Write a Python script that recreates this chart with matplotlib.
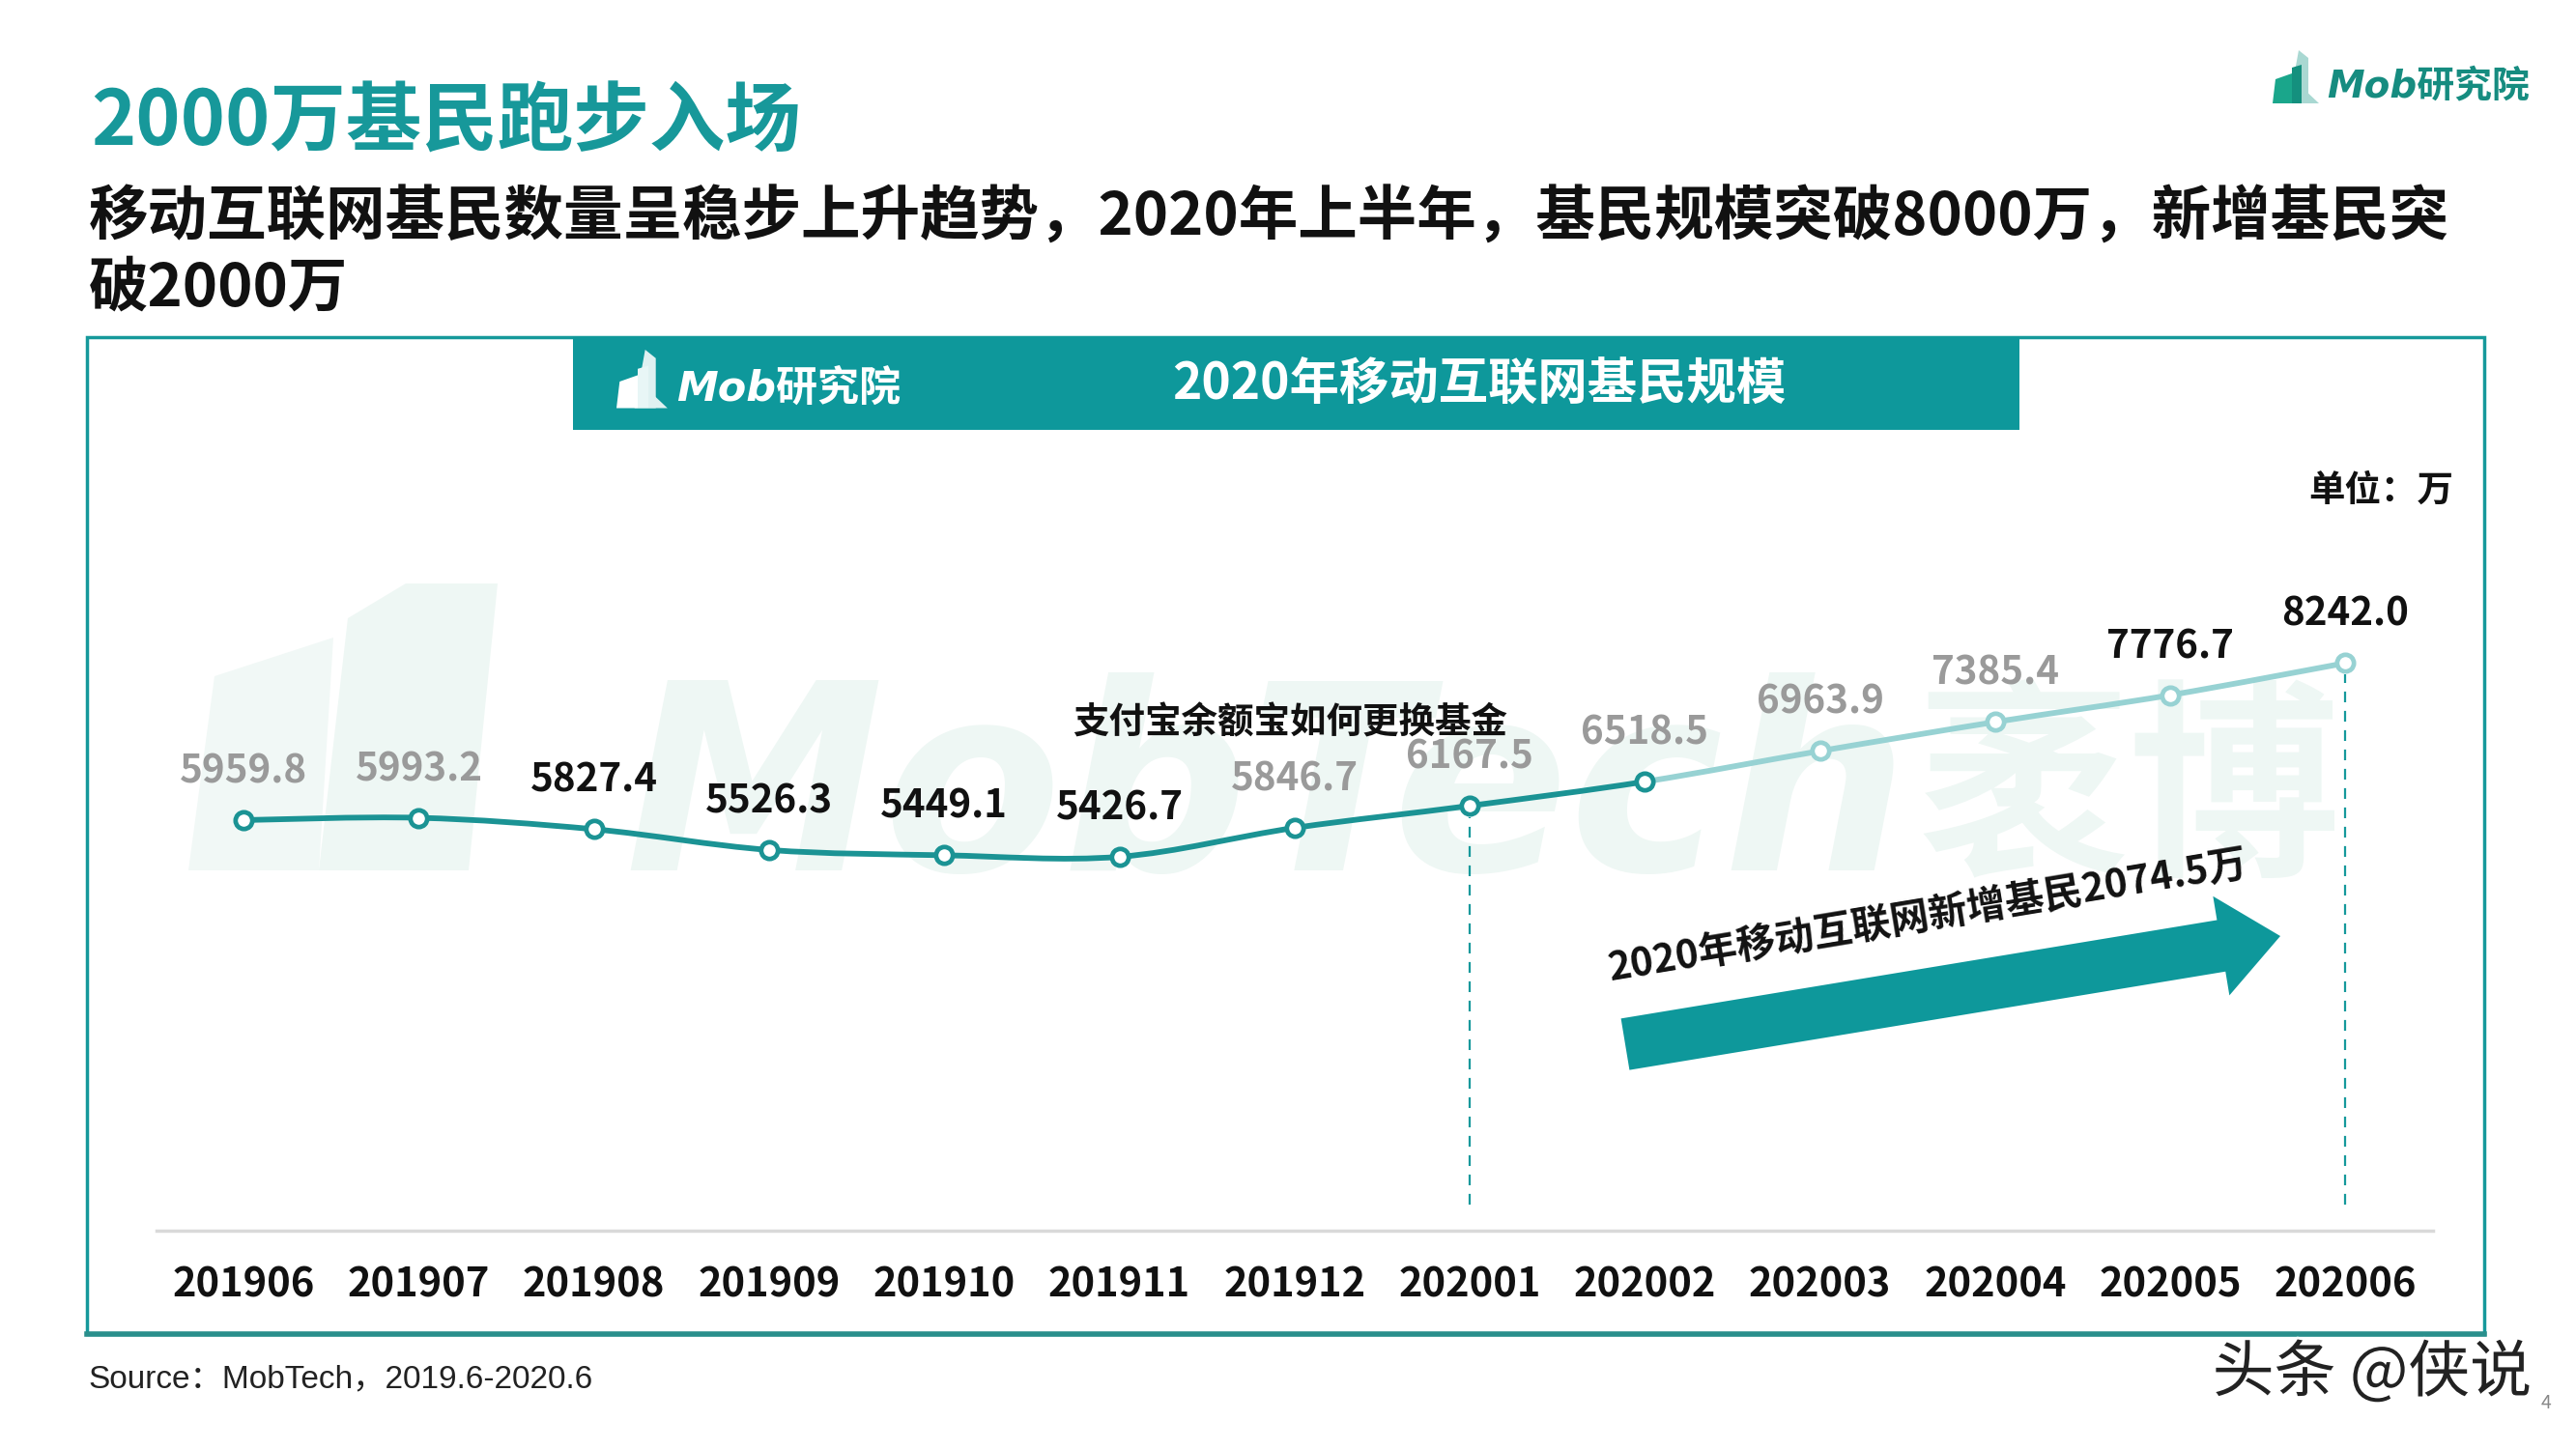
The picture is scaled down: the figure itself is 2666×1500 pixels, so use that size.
import numpy as np
import matplotlib
matplotlib.use("Agg")
import matplotlib.pyplot as plt
from matplotlib.path import Path
from matplotlib.patches import PathPatch, Rectangle, Polygon, FancyArrow
import matplotlib.patheffects as pe

plt.rcParams['font.family'] = ['Noto Sans CJK SC', 'DejaVu Sans']

# data
months = ['201906', '201907', '201908', '201909', '201910', '201911', '201912',
          '202001', '202002', '202003', '202004', '202005', '202006']
users = [5959.8, 5993.2, 5827.4, 5526.3, 5449.1, 5426.7, 5846.7,
         6167.5, 6518.5, 6963.9, 7385.4, 7776.7, 8242.0]
label_gray = [True, True, False, False, False, False, True,
              True, True, True, True, False, False]
split_idx = 8          # light segment starts at 202002
dash_idx = [7, 12]     # dashed markers at 202001 and 202006

title = '2000万基民跑步入场'
subtitle1 = '移动互联网基民数量呈稳步上升趋势，2020年上半年，基民规模突破8000万，新增基民突'
subtitle2 = '破2000万'
chart_title = '2020年移动互联网基民规模'
note = '支付宝余额宝如何更换基金'
arrow_text = '2020年移动互联网新增基民2074.5万'
unit = '单位：万'
source = 'Source：MobTech，2019.6-2020.6'

TEAL = '#15999b'
DARK = '#1b9394'
LIGHT = '#97d2d3'
GRAY = '#9a9a9a'
WM = '#eef7f4'

W, H = 2666, 1500
fig = plt.figure(figsize=(W / 100, H / 100), dpi=100)
renderer = fig.canvas.get_renderer()

# background layer in pixel coordinates (decorations)
bg = fig.add_axes([0, 0, 1, 1], zorder=0)
bg.set_xlim(0, W)
bg.set_ylim(H, 0)
bg.axis('off')


def fit_text(x0, x1, yb, s, **kw):
    # text whose width spans x0..x1 (pixels)
    t = bg.text(x0, yb, s, fontsize=100, ha='left', va='baseline', **kw)
    w = t.get_window_extent(renderer).width
    t.set_fontsize(100 * (x1 - x0) / w)
    return t


# frame and header bar
bg.add_patch(Rectangle((90, 349), 2481, 1032, fill=False, ec=TEAL, lw=2.5))
bg.plot([90, 2571], [1381, 1381], color='#2a8f8c', lw=4)
bg.add_patch(Rectangle((593, 349), 1497, 96, fc='#0e989b', ec='none'))

# watermark
bg.add_patch(Polygon([(330, 901), (360, 640), (420, 604), (515, 604), (485, 901)], fc=WM, ec='none', zorder=0.5))
bg.add_patch(Polygon([(195, 901), (222, 700), (345, 660), (330, 901)], fc='#f1f8f6', ec='none', zorder=0.5))
fit_text(646, 1975, 901, 'MobTech', fontweight='bold', style='italic', color=WM,
         family=['DejaVu Sans'], zorder=0.5)
fit_text(1985, 2423, 890, '袤博', fontweight='bold', color=WM, zorder=0.5)


def logo(x0, y0, s, c_back, c_front, c_mid, c_text, text_size):
    # rough building icon + "Mob研究院"
    bg.add_patch(Polygon([(x0 + 17 * s, y0 + 55 * s), (x0 + 27 * s, y0), (x0 + 37 * s, y0 + 8 * s),
                          (x0 + 37 * s, y0 + 55 * s)], closed=True, fc=c_back, ec='none'))
    bg.add_patch(Polygon([(x0, y0 + 55 * s), (x0 + 3 * s, y0 + 30 * s), (x0 + 20 * s, y0 + 24 * s),
                          (x0 + 20 * s, y0 + 55 * s)], closed=True, fc=c_front, ec='none'))
    bg.add_patch(Polygon([(x0 + 20 * s, y0 + 55 * s), (x0 + 20 * s, y0 + 18 * s), (x0 + 30 * s, y0 + 15 * s),
                          (x0 + 30 * s, y0 + 55 * s)], closed=True, fc=c_mid, ec='none'))
    bg.add_patch(Polygon([(x0 + 30 * s, y0 + 55 * s), (x0 + 30 * s, y0 + 38 * s), (x0 + 48 * s, y0 + 55 * s)],
                         closed=True, fc=c_back, ec='none'))
    bg.text(x0 + 56 * s, y0 + 37 * s, 'Mob研究院', fontsize=text_size, fontweight='bold', style='italic',
            color=c_text, ha='left', va='center', family=['DejaVu Sans', 'Noto Sans CJK SC'])


logo(2352, 52, 1.0, '#a9d8d2', '#1aa68b', '#14907e', '#168c80', 28)
logo(638, 362, 1.1, '#dff1f1', '#ffffff', '#e8f6f6', '#ffffff', 31)

# titles
bg.text(94, 128, title, fontsize=56.5, fontweight='bold', color='#17989a', ha='left', va='center')
bg.text(92, 226, subtitle1, fontsize=44.3, fontweight='bold', color='#111111', ha='left', va='center')
bg.text(92, 299, subtitle2, fontsize=44.3, fontweight='bold', color='#111111', ha='left', va='center')
bg.text(1531, 398, chart_title, fontsize=37, fontweight='bold', color='white', ha='center', va='center')
bg.text(2539, 507, unit, fontsize=27, fontweight='bold', color='#111111', ha='right', va='center')
bg.text(1335, 748, note, fontsize=27, fontweight='bold', color='#111111', ha='center', va='center', zorder=5)

# big arrow
bg.add_patch(FancyArrow(1682, 1081, 678, -112, width=54, head_width=104, head_length=62,
                        length_includes_head=True, fc='#0e989b', ec='none', zorder=3))
bg.text(1995, 949, arrow_text, fontsize=29, fontweight='bold', color='#111111', rotation=9.4,
        ha='center', va='center', rotation_mode='anchor', zorder=5)

# footer
bg.text(91, 1428, source, fontsize=24, color='#222222', ha='left', va='center',
        family=['Liberation Sans', 'Noto Sans CJK SC'])
bg.text(2620, 1422, '头条 @侠说', fontsize=46, color='#222222', ha='right', va='center',
        path_effects=[pe.withStroke(linewidth=4, foreground='white')])
bg.text(2630, 1452, '4', fontsize=14, color='#888888', ha='left', va='center')

# main chart
ax = fig.add_axes([0.0606, 0.151, 0.8839, 0.52], zorder=2)
ax.patch.set_alpha(0)
x = np.arange(len(months))
y = np.array(users)
ax.set_xlim(-0.5, len(months) - 0.5)
ax.set_ylim(0, 10950)
for s in ['top', 'left', 'right']:
    ax.spines[s].set_visible(False)
ax.spines['bottom'].set_color('#d9d9d9')
ax.spines['bottom'].set_linewidth(2.5)
ax.set_yticks([])
ax.set_xticks(x)
ax.set_xticklabels(months, fontsize=30, fontweight='bold', color='#111111')
ax.tick_params(axis='x', length=0, pad=26)


def smooth_path(i0, i1):
    # Catmull-Rom through the data points, as cubic Bezier segments
    pts = np.column_stack([x, y])
    verts = [pts[i0]]
    codes = [Path.MOVETO]
    for i in range(i0, i1):
        p0 = pts[max(i - 1, 0)]
        p1 = pts[i]
        p2 = pts[i + 1]
        p3 = pts[min(i + 2, len(pts) - 1)]
        verts += [p1 + (p2 - p0) / 6, p2 - (p3 - p1) / 6, p2]
        codes += [Path.CURVE4] * 3
    return Path(verts, codes)


ax.add_patch(PathPatch(smooth_path(0, split_idx), fill=False, ec=DARK, lw=4.2, zorder=3,
                       capstyle='round'))
ax.add_patch(PathPatch(smooth_path(split_idx, len(x) - 1), fill=False, ec=LIGHT, lw=4.2, zorder=3,
                       capstyle='round'))

ax.plot(x[:split_idx + 1], y[:split_idx + 1], 'o', ms=12.5, mfc='white', mec=DARK, mew=3.4, zorder=4)
ax.plot(x[split_idx + 1:], y[split_idx + 1:], 'o', ms=12.5, mfc='white', mec=LIGHT, mew=3.4, zorder=4)

for i in dash_idx:
    ax.plot([x[i], x[i]], [370, y[i] - 160], color=TEAL, lw=1.6, ls=(0, (5, 4)), zorder=2)

for i, v in enumerate(users):
    ax.annotate(f'{v:.1f}', (x[i], v), xytext=(0, 36), textcoords='offset points',
                ha='center', va='center', fontsize=29, fontweight='bold',
                color=GRAY if label_gray[i] else '#111111', zorder=5)

fig.savefig('out.png', dpi=100)
